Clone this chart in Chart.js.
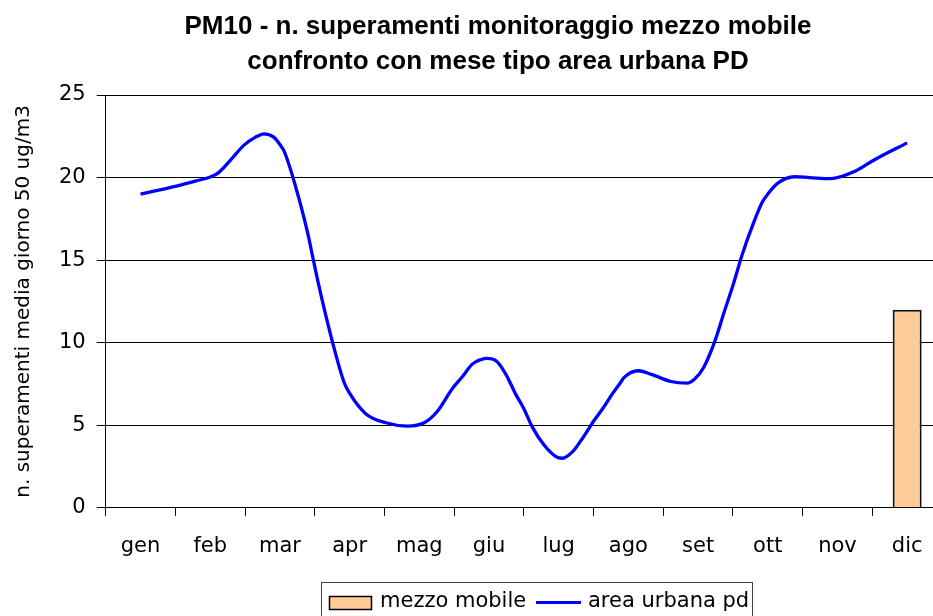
<!DOCTYPE html>
<html>
<head>
<meta charset="utf-8">
<script src="https://cdn.jsdelivr.net/npm/chart.js@4.4.0/dist/chart.umd.min.js"></script>
<style>
  html, body { margin: 0; padding: 0; background: #fff; overflow: hidden; width: 933px; height: 616px; }
  canvas { display: block; }
</style>
</head>
<body>
<canvas id="chart" width="942" height="616"></canvas>
<script>
// dati
const months = ['gen', 'feb', 'mar', 'apr', 'mag', 'giu', 'lug', 'ago', 'set', 'ott', 'nov', 'dic'];
const mezzoMobile = [null, null, null, null, null, null, null, null, null, null, null, 12];

// curva area urbana: posizione in mesi (0 = inizio gen) e valore
const urbanaPos = [0.50, 0.98, 1.30, 1.51, 1.62, 1.80, 1.98, 2.15, 2.27, 2.41, 2.50, 2.56, 2.68, 2.80,
  2.90, 2.97, 3.04, 3.11, 3.25, 3.42, 3.49, 3.73, 4.02, 4.33, 4.57, 4.76, 4.97, 5.12, 5.26, 5.38,
  5.47, 5.60, 5.74, 5.88, 6.00, 6.12, 6.29, 6.46, 6.55, 6.70, 6.84, 7.01, 7.13, 7.27, 7.39, 7.44,
  7.64, 7.82, 8.11, 8.34, 8.44, 8.58, 8.75, 8.87, 9.01, 9.13, 9.30, 9.42, 9.50, 9.64, 9.88, 10.10,
  10.40, 10.76, 11.02, 11.50];
const urbanaVal = [19.0, 19.45, 19.8, 20.05, 20.3, 21.1, 21.95, 22.45, 22.65, 22.45, 22.0, 21.6, 20.1, 18.3,
  16.6, 15.2, 13.8, 12.5, 10.1, 7.6, 7.0, 5.7, 5.15, 4.95, 5.15, 5.85, 7.2, 7.95, 8.7, 8.97,
  9.05, 8.9, 8.1, 6.9, 6.0, 4.9, 3.8, 3.1, 3.0, 3.4, 4.2, 5.3, 6.0, 6.9, 7.6, 7.9,
  8.3, 8.1, 7.65, 7.55, 7.75, 8.5, 10.2, 11.8, 13.6, 15.3, 17.3, 18.5, 19.0, 19.65, 20.05, 20.0,
  19.93, 20.4, 21.05, 22.1];

const titleLines = ['PM10 - n. superamenti monitoraggio mezzo mobile', 'confronto con mese tipo area urbana PD'];
const yTitle = 'n. superamenti media giorno 50 ug/m3';

Chart.defaults.font.family = 'DejaVu Sans';
Chart.defaults.font.size = 21;
Chart.defaults.color = '#000';

// titolo e legenda disegnati a mano (posizioni come nell'originale)
const extras = {
  id: 'extras',
  afterDraw(chart) {
    const ctx = chart.ctx;
    ctx.save();
    ctx.fillStyle = '#000';
    ctx.textAlign = 'center';
    ctx.textBaseline = 'alphabetic';
    ctx.font = 'bold 26px "Liberation Sans"';
    ctx.fillText(titleLines[0], 498, 34);
    ctx.fillText(titleLines[1], 498, 69);

    // legenda
    const ds = chart.data.datasets;
    ctx.strokeStyle = '#444';
    ctx.lineWidth = 1;
    ctx.strokeRect(321.5, 582.5, 431, 40);
    ctx.fillStyle = ds[0].backgroundColor;
    ctx.fillRect(329, 596, 42, 13);
    ctx.strokeStyle = '#000';
    ctx.lineWidth = 1.5;
    ctx.strokeRect(329.5, 596.5, 42, 13);
    ctx.strokeStyle = ds[1].borderColor;
    ctx.lineWidth = 3;
    ctx.beginPath();
    ctx.moveTo(536, 602.5);
    ctx.lineTo(581, 602.5);
    ctx.stroke();
    ctx.fillStyle = '#000';
    ctx.textAlign = 'left';
    ctx.textBaseline = 'middle';
    ctx.font = '21px "DejaVu Sans"';
    ctx.fillText(ds[0].label, 380, 602);
    ctx.fillText(ds[1].label, 588, 602);
    ctx.restore();
  }
};

new Chart(document.getElementById('chart'), {
  type: 'bar',
  data: {
    labels: months,
    datasets: [{
      label: 'mezzo mobile',
      data: mezzoMobile,
      backgroundColor: '#FFCC99',
      borderColor: '#111',
      borderWidth: 2,
      grouped: false,
      categoryPercentage: 0.8,
      barPercentage: 0.52,
      order: 2
    }, {
      type: 'line',
      label: 'area urbana pd',
      data: urbanaPos.map((p, i) => ({ x: p, y: urbanaVal[i] })),
      xAxisID: 'x2',
      borderColor: '#0000FF',
      borderWidth: 3.3,
      pointRadius: 0,
      tension: 0.4,
      cubicInterpolationMode: 'monotone',
      order: 1
    }]
  },
  options: {
    responsive: false,
    animation: false,
    layout: { padding: { top: 95, left: 12, right: 0, bottom: 39 } },
    plugins: {
      legend: { display: false },
      title: { display: false },
      tooltip: { enabled: false }
    },
    scales: {
      x: {
        offset: true,
        grid: { drawOnChartArea: false, drawTicks: true, tickLength: 8, color: '#000', offset: true },
        border: { color: '#000' },
        ticks: { padding: 18, maxRotation: 0, autoSkip: false }
      },
      x2: {
        type: 'linear',
        display: false,
        offset: false,
        grace: 0,
        min: 0,
        max: 12
      },
      y: {
        min: 0,
        max: 25,
        ticks: { stepSize: 5, padding: 11 },
        grid: { color: '#000', tickLength: 9 },
        border: { color: '#000' },
        title: { display: true, text: yTitle, font: { size: 20 }, padding: { top: 0, bottom: 12 } }
      }
    }
  },
  plugins: [extras]
});
</script>
</body>
</html>
